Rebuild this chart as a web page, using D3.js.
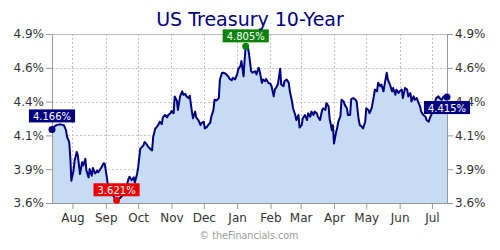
<!DOCTYPE html>
<html>
<head>
<meta charset="utf-8">
<script src="https://cdn.jsdelivr.net/npm/d3@7"></script>
<style>
  body { margin: 0; background: #fff; }
  svg { display: block; font-family: "DejaVu Sans", Verdana, sans-serif; }
</style>
</head>
<body>
<svg></svg>
<script>
const title = "US Treasury 10-Year";
const credit = "\u00a9 theFinancials.com";

// closing yield
const dates = [
  "2024-07-13","2024-07-15","2024-07-17","2024-07-20","2024-07-24","2024-07-26","2024-07-27","2024-07-29","2024-07-30","2024-07-31",
  "2024-08-02","2024-08-03","2024-08-05","2024-08-06","2024-08-08","2024-08-10","2024-08-11","2024-08-13","2024-08-14","2024-08-16",
  "2024-08-17","2024-08-19","2024-08-20","2024-08-22","2024-08-24","2024-08-25","2024-08-27","2024-08-28","2024-08-30","2024-08-31",
  "2024-09-02","2024-09-03","2024-09-06","2024-09-08","2024-09-10","2024-09-11","2024-09-14","2024-09-16","2024-09-18","2024-09-20",
  "2024-09-22","2024-09-23","2024-09-25","2024-09-27","2024-09-28","2024-09-30","2024-10-01","2024-10-03","2024-10-04","2024-10-06",
  "2024-10-07","2024-10-09","2024-10-10","2024-10-12","2024-10-14","2024-10-15","2024-10-17","2024-10-18","2024-10-20","2024-10-21",
  "2024-10-23","2024-10-24","2024-10-26","2024-10-28","2024-10-29","2024-10-31","2024-11-01","2024-11-03","2024-11-04","2024-11-06",
  "2024-11-07","2024-11-09","2024-11-11","2024-11-12","2024-11-14","2024-11-15","2024-11-17","2024-11-18","2024-11-20","2024-11-21",
  "2024-11-23","2024-11-24","2024-11-26","2024-11-28","2024-11-29","2024-12-01","2024-12-02","2024-12-04","2024-12-05","2024-12-07",
  "2024-12-08","2024-12-10","2024-12-11","2024-12-13","2024-12-15","2024-12-16","2024-12-18","2024-12-19","2024-12-21","2024-12-22",
  "2024-12-24","2024-12-25","2024-12-27","2024-12-28","2024-12-30","2025-01-01","2025-01-02","2025-01-04","2025-01-05","2025-01-07",
  "2025-01-08","2025-01-09","2025-01-11","2025-01-12","2025-01-14","2025-01-15","2025-01-18","2025-01-19","2025-01-21","2025-01-22",
  "2025-01-24","2025-01-25","2025-01-27","2025-01-28","2025-01-30","2025-02-01","2025-02-02","2025-02-04","2025-02-05","2025-02-07",
  "2025-02-08","2025-02-10","2025-02-11","2025-02-13","2025-02-14","2025-02-16","2025-02-18","2025-02-19","2025-02-21","2025-02-22",
  "2025-02-24","2025-02-25","2025-02-27","2025-02-28","2025-03-02","2025-03-03","2025-03-05","2025-03-07","2025-03-08","2025-03-10",
  "2025-03-11","2025-03-13","2025-03-14","2025-03-16","2025-03-17","2025-03-19","2025-03-21","2025-03-22","2025-03-24","2025-03-25",
  "2025-03-27","2025-03-28","2025-03-29","2025-03-30","2025-03-31","2025-04-01","2025-04-03","2025-04-04","2025-04-05","2025-04-07",
  "2025-04-08","2025-04-10","2025-04-11","2025-04-13","2025-04-14","2025-04-16","2025-04-17","2025-04-19","2025-04-21","2025-04-22",
  "2025-04-24","2025-04-25","2025-04-27","2025-04-28","2025-04-30","2025-05-01","2025-05-03","2025-05-04","2025-05-06","2025-05-08",
  "2025-05-09","2025-05-11","2025-05-12","2025-05-14","2025-05-15","2025-05-17","2025-05-18","2025-05-20","2025-05-21","2025-05-23",
  "2025-05-25","2025-05-26","2025-05-28","2025-05-29","2025-05-31","2025-06-01","2025-06-03","2025-06-04","2025-06-06","2025-06-08",
  "2025-06-09","2025-06-11","2025-06-12","2025-06-14","2025-06-15","2025-06-17","2025-06-18","2025-06-20","2025-06-21","2025-06-23",
  "2025-06-25","2025-06-26","2025-06-28","2025-06-29","2025-07-01","2025-07-02","2025-07-04","2025-07-05","2025-07-07","2025-07-08",
  "2025-07-10","2025-07-12","2025-07-13","2025-07-15"
];
const yields = [
  4.166,4.186,4.199,4.205,4.199,4.160,4.108,4.069,3.953,3.771,
  3.849,3.927,3.992,3.966,3.823,3.914,3.888,3.940,3.849,3.797,
  3.862,3.810,3.870,3.828,3.849,3.836,3.862,3.875,3.906,3.901,
  3.797,3.732,3.699,3.654,3.629,3.621,3.637,3.654,3.672,3.719,
  3.784,3.802,3.776,3.797,3.758,3.823,3.870,4.018,4.026,4.044,
  4.069,4.051,4.036,4.018,4.005,4.108,4.174,4.181,4.205,4.225,
  4.207,4.259,4.277,4.259,4.277,4.290,4.308,4.290,4.420,4.389,
  4.316,4.420,4.459,4.433,4.438,4.420,4.407,4.425,4.303,4.252,
  4.303,4.259,4.238,4.199,4.217,4.225,4.174,4.186,4.199,4.217,
  4.264,4.316,4.394,4.389,4.407,4.550,4.602,4.602,4.596,4.589,
  4.571,4.555,4.544,4.563,4.550,4.589,4.628,4.653,4.692,4.575,
  4.705,4.805,4.796,4.752,4.614,4.602,4.614,4.589,4.641,4.614,
  4.524,4.550,4.537,4.555,4.524,4.516,4.498,4.420,4.472,4.498,
  4.519,4.633,4.511,4.498,4.537,4.550,4.524,4.459,4.381,4.329,
  4.277,4.238,4.277,4.181,4.199,4.252,4.277,4.238,4.290,4.264,
  4.303,4.277,4.303,4.290,4.264,4.238,4.316,4.329,4.316,4.368,
  4.342,4.244,4.207,4.160,4.199,4.057,4.147,4.181,4.225,4.269,
  4.394,4.381,4.355,4.329,4.277,4.277,4.399,4.407,4.394,4.381,
  4.238,4.199,4.186,4.174,4.225,4.329,4.316,4.290,4.329,4.420,
  4.472,4.459,4.524,4.498,4.511,4.459,4.511,4.602,4.550,4.511,
  4.459,4.485,4.433,4.472,4.446,4.459,4.472,4.407,4.485,4.472,
  4.420,4.446,4.381,4.420,4.394,4.407,4.381,4.342,4.303,4.277,
  4.264,4.238,4.225,4.252,4.290,4.316,4.381,4.407,4.420,4.407,
  4.394,4.420,4.420,4.415
];
const yTicks = [3.6, 3.86, 4.12, 4.38, 4.64, 4.9];

const width = 500, height = 250;
const margin = {top: 34, right: 53, bottom: 47, left: 52};
const navy = "#000080";

const svg = d3.select("svg").attr("width", width).attr("height", height);

const parse = d3.timeParse("%Y-%m-%d");
const data = dates.map((d, i) => ({date: parse(d), value: yields[i]}));

const x = d3.scaleTime()
  .domain(d3.extent(data, d => d.date))
  .range([margin.left, width - margin.right]);
const y = d3.scaleLinear()
  .domain([3.6, 4.9])
  .range([height - margin.bottom, margin.top]);

const months = d3.timeMonth.range(x.domain()[0], x.domain()[1]);
const fmtY = d => d3.format(".1f")(d) + "%";

// grid
const grid = svg.append("g").attr("stroke", "#c4c4c4").attr("stroke-dasharray", "2,2");
grid.selectAll(".gx").data(months).enter().append("line")
  .attr("x1", d => Math.round(x(d)) + 0.5).attr("x2", d => Math.round(x(d)) + 0.5)
  .attr("y1", y.range()[1]).attr("y2", y.range()[0]);
grid.selectAll(".gy").data(yTicks).enter().append("line")
  .attr("x1", x.range()[0]).attr("x2", x.range()[1])
  .attr("y1", d => Math.round(y(d)) + 0.5).attr("y2", d => Math.round(y(d)) + 0.5);

// area + line
const area = d3.area().x(d => x(d.date)).y0(y(3.6)).y1(d => y(d.value));
const line = d3.line().x(d => x(d.date)).y(d => y(d.value));

svg.append("path").datum(data).attr("d", area).attr("fill", "#c6dcf5");
svg.append("path").datum(data).attr("d", line)
  .attr("fill", "none").attr("stroke", navy).attr("stroke-width", 2)
  .attr("stroke-linejoin", "round");

// axes
function styleAxis(g) {
  g.selectAll(".domain").attr("stroke", "#999");
  g.selectAll(".tick line").attr("stroke", "#999");
  g.selectAll(".tick text").attr("fill", "#333")
    .style("font-family", "DejaVu Sans, Verdana, sans-serif").style("font-size", "12px");
}
svg.append("g")
  .attr("transform", `translate(${x.range()[0]},0)`)
  .call(d3.axisLeft(y).tickValues(yTicks).tickFormat(fmtY).tickSize(6).tickSizeOuter(0).tickPadding(2))
  .call(styleAxis);
svg.append("g")
  .attr("transform", `translate(${x.range()[1]},0)`)
  .call(d3.axisRight(y).tickValues(yTicks).tickFormat(fmtY).tickSize(6).tickSizeOuter(0).tickPadding(2))
  .call(styleAxis);
svg.append("g")
  .attr("transform", `translate(0,${y.range()[0]})`)
  .call(d3.axisBottom(x).tickValues(months).tickFormat(d3.timeFormat("%b")).tickSize(6).tickSizeOuter(0).tickPadding(4))
  .call(styleAxis);
svg.append("line")
  .attr("x1", x.range()[0]).attr("x2", x.range()[1])
  .attr("y1", y.range()[1] + 0.5).attr("y2", y.range()[1] + 0.5)
  .attr("stroke", "#bbb");

// marked points: first, low, high, last
const lo = data[d3.minIndex(data, d => d.value)];
const hi = data[d3.maxIndex(data, d => d.value)];
const marks = [
  {d: data[0], color: navy, dy: -7},
  {d: lo, color: "#ee0000", dy: -4},
  {d: hi, color: "#0a820a", dy: -4},
  {d: data[data.length - 1], color: navy, dy: 4}
];

marks.forEach(m => {
  const px = x(m.d.date), py = y(m.d.value);
  svg.append("circle").attr("cx", px).attr("cy", py).attr("r", 3.5).attr("fill", m.color);
});
marks.forEach(m => {
  const px = x(m.d.date), py = y(m.d.value);
  const g = svg.append("g");
  const t = g.append("text")
    .attr("x", px).attr("text-anchor", "middle")
    .attr("fill", "#fff").style("font-size", "10px")
    .text(d3.format(".3f")(m.d.value) + "%");
  const bw = t.node().getComputedTextLength() + 8, bh = 13;
  const top = m.dy < 0 ? py + m.dy - bh : py + m.dy;
  g.insert("rect", "text")
    .attr("x", px - bw / 2).attr("y", top).attr("width", bw).attr("height", bh)
    .attr("fill", m.color);
  t.attr("y", top + 10.5);
});

// title and credit
svg.append("text")
  .attr("x", width / 2).attr("y", 26).attr("text-anchor", "middle")
  .attr("fill", navy).style("font-size", "19px")
  .text(title);
svg.append("text")
  .attr("x", 249).attr("y", 239).attr("text-anchor", "middle")
  .attr("fill", "#999").style("font-size", "9.6px")
  .text(credit);
</script>
</body>
</html>
